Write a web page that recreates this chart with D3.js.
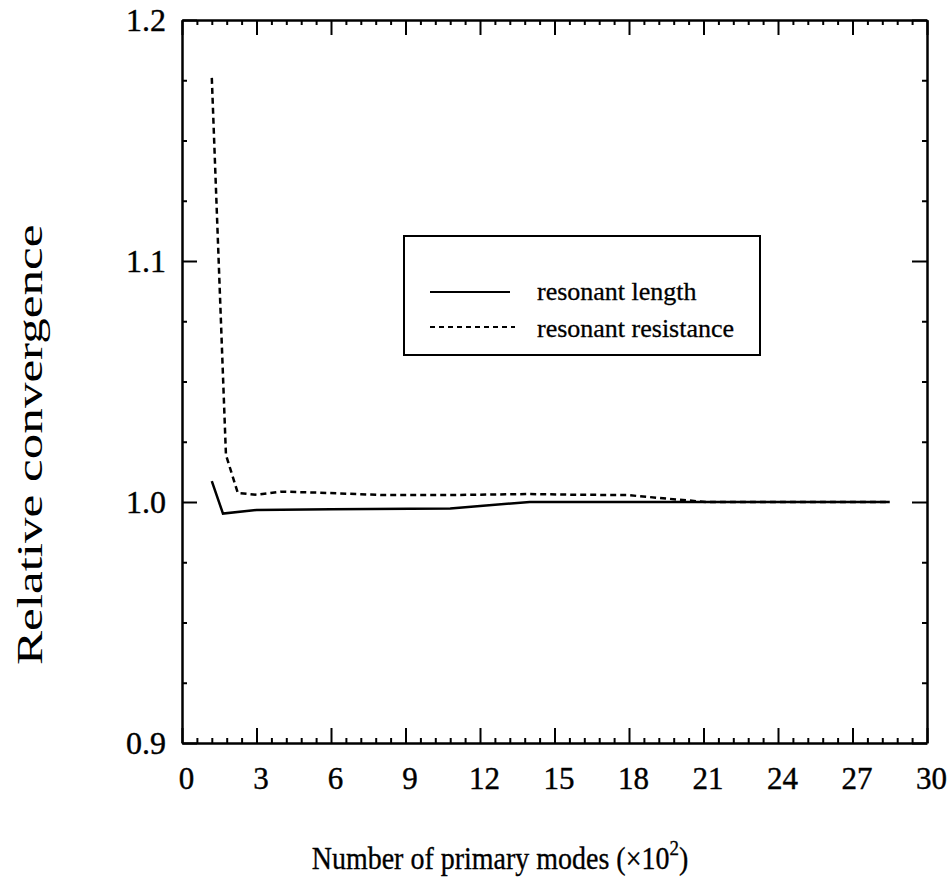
<!DOCTYPE html>
<html>
<head>
<meta charset="utf-8">
<script src="https://cdn.jsdelivr.net/npm/d3@7"></script>
<style>
  html, body { margin: 0; padding: 0; background: #fff; }
  svg { display: block; }
  text { font-family: "Liberation Serif", "Times New Roman", serif; fill: #000; }
</style>
</head>
<body>
<svg id="chart" width="949" height="888"></svg>
<script>
// Convergence of resonant quantities versus number of primary modes (x10^2)
const xMajorTicks = [0, 3, 6, 9, 12, 15, 18, 21, 24, 27, 30];
const yMajorTicks = [0.9, 1.0, 1.1, 1.2];
const yTickLabels = ["0.9", "1.0", "1.1", "1.2"];

const lengthModes  = [1.2, 1.65, 3, 6, 10.8, 14, 21, 28.5];
const lengthValues = [1.0087, 0.9952, 0.9967, 0.997, 0.9973, 1.0, 1.0, 1.0];

const resistanceModes  = [1.2, 1.77, 2.25, 3, 4, 5.5, 8, 11, 14, 16, 17.9, 19.2, 21.1, 28.5];
const resistanceValues = [1.176, 1.0195, 1.0037, 1.003, 1.0043, 1.0039, 1.0029, 1.0029, 1.0033, 1.003, 1.0029, 1.0017, 1.0, 1.0];

const seriesNames = ["resonant length", "resonant resistance"];

const svg = d3.select("#chart");
const m = { left: 182, right: 927, top: 20, bottom: 743 };

const x = d3.scaleLinear().domain([0, 30]).range([m.left, m.right]);
const y = d3.scaleLinear().domain([0.9, 1.2]).range([m.bottom, m.top]);

const xMinor = d3.range(0, 30.0001, 0.6).filter(v => Math.abs(v / 3 - Math.round(v / 3)) > 1e-6);
const yMinor = d3.range(0.9, 1.2001, 0.025).filter(v => Math.abs(v * 10 - Math.round(v * 10)) > 1e-6);

function styleAxis(g, w) {
  g.selectAll("path").attr("stroke", "#000").attr("stroke-width", w);
  g.selectAll("line").attr("stroke", "#000").attr("stroke-width", 2);
}

// bottom axis with labels, ticks pointing inward
const gBottom = svg.append("g").attr("transform", `translate(0,${m.bottom})`)
  .call(d3.axisBottom(x).tickValues(xMajorTicks).tickFormat(d3.format("d"))
    .tickSizeInner(-15).tickSizeOuter(0).tickPadding(24));
styleAxis(gBottom, 2.5);
gBottom.selectAll("text").attr("font-size", 31).attr("dx", 4)
  .attr("font-family", "Liberation Serif").attr("stroke", "#000").attr("stroke-width", 0.4);
svg.append("g").attr("transform", `translate(0,${m.bottom})`)
  .call(d3.axisBottom(x).tickValues(xMinor).tickFormat("").tickSizeInner(-5).tickSizeOuter(0))
  .call(g => { g.select("path").remove(); styleAxis(g, 0); });

// top axis
const gTop = svg.append("g").attr("transform", `translate(0,${m.top})`)
  .call(d3.axisTop(x).tickValues(xMajorTicks).tickFormat("").tickSizeInner(-15).tickSizeOuter(0));
styleAxis(gTop, 2.5);
svg.append("g").attr("transform", `translate(0,${m.top})`)
  .call(d3.axisTop(x).tickValues(xMinor).tickFormat("").tickSizeInner(-5).tickSizeOuter(0))
  .call(g => { g.select("path").remove(); styleAxis(g, 0); });

// left axis with labels
const gLeft = svg.append("g").attr("transform", `translate(${m.left},0)`)
  .call(d3.axisLeft(y).tickValues(yMajorTicks).tickFormat((d, i) => yTickLabels[i])
    .tickSizeInner(-15).tickSizeOuter(0).tickPadding(16));
styleAxis(gLeft, 2.5);
gLeft.selectAll("text").attr("font-size", 32).attr("font-family", "Liberation Serif")
  .attr("stroke", "#000").attr("stroke-width", 0.4);
svg.append("g").attr("transform", `translate(${m.left},0)`)
  .call(d3.axisLeft(y).tickValues(yMinor).tickFormat("").tickSizeInner(-5).tickSizeOuter(0))
  .call(g => { g.select("path").remove(); styleAxis(g, 0); });

// right axis
const gRight = svg.append("g").attr("transform", `translate(${m.right},0)`)
  .call(d3.axisRight(y).tickValues(yMajorTicks).tickFormat("").tickSizeInner(-15).tickSizeOuter(0));
styleAxis(gRight, 2.5);
svg.append("g").attr("transform", `translate(${m.right},0)`)
  .call(d3.axisRight(y).tickValues(yMinor).tickFormat("").tickSizeInner(-5).tickSizeOuter(0))
  .call(g => { g.select("path").remove(); styleAxis(g, 0); });

// data lines
const line = d3.line().x(d => x(d[0])).y(d => y(d[1]));
const lengthPts = lengthModes.map((v, i) => [v, lengthValues[i]]);
const resistancePts = resistanceModes.map((v, i) => [v, resistanceValues[i]]);

svg.append("path").datum(resistancePts).attr("d", line)
  .attr("fill", "none").attr("stroke", "#000").attr("stroke-width", 2.5)
  .attr("stroke-dasharray", "6,4");
svg.append("path").datum(lengthPts).attr("d", line)
  .attr("fill", "none").attr("stroke", "#000").attr("stroke-width", 2.5);

// legend
const lg = svg.append("g");
lg.append("rect").attr("x", 404).attr("y", 236).attr("width", 356).attr("height", 119)
  .attr("fill", "#fff").attr("stroke", "#000").attr("stroke-width", 2);
lg.append("line").attr("x1", 430).attr("x2", 510).attr("y1", 292).attr("y2", 292)
  .attr("stroke", "#000").attr("stroke-width", 2);
lg.append("line").attr("x1", 430).attr("x2", 515).attr("y1", 327).attr("y2", 327)
  .attr("stroke", "#000").attr("stroke-width", 2).attr("stroke-dasharray", "5,4");
lg.append("text").attr("x", 537).attr("y", 300).attr("font-size", 26)
  .attr("stroke", "#000").attr("stroke-width", 0.3).text(seriesNames[0]);
lg.append("text").attr("x", 537).attr("y", 337).attr("font-size", 26)
  .attr("stroke", "#000").attr("stroke-width", 0.3).text(seriesNames[1]);

// axis titles (glyphs drawn slightly elongated, as in the printed figure)
const xt = svg.append("text").attr("transform", "translate(500,869) scale(1,1.15)")
  .attr("text-anchor", "middle").attr("font-size", 28)
  .attr("stroke", "#000").attr("stroke-width", 0.3);
xt.append("tspan").text("Number of primary modes (×10");
xt.append("tspan").attr("dy", -12).attr("font-size", 19).text("2");
xt.append("tspan").attr("dy", 12).text(")");

svg.append("text").attr("transform", "translate(42,665) rotate(-90) scale(1.42,1)")
  .attr("text-anchor", "start").attr("font-size", 36)
  .text("Relative convergence");
</script>
</body>
</html>
